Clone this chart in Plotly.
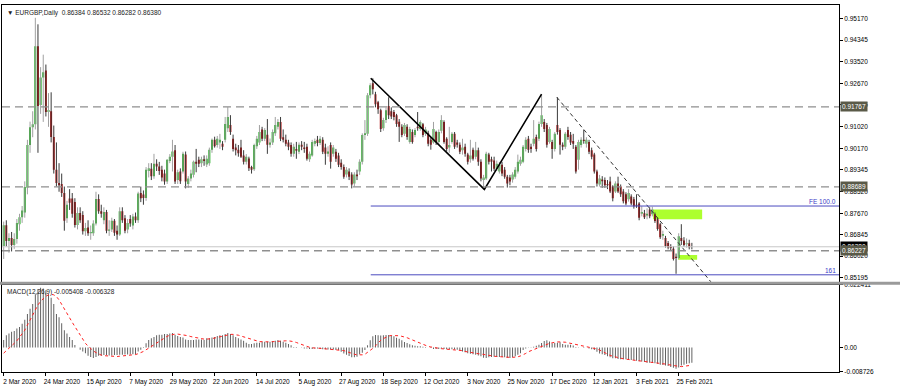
import plotly.graph_objects as go

# ---------------- data ----------------
tick_idx = [0, 16, 32, 48, 64, 80, 96, 112, 128, 144, 160, 176, 192, 208, 224, 240, 256]
tick_dates = ["2 Mar 2020", "24 Mar 2020", "15 Apr 2020", "7 May 2020", "29 May 2020", "22 Jun 2020",
              "14 Jul 2020", "5 Aug 2020", "27 Aug 2020", "18 Sep 2020", "12 Oct 2020", "3 Nov 2020",
              "25 Nov 2020", "17 Dec 2020", "12 Jan 2021", "3 Feb 2021", "25 Feb 2021"]

opens = [
    .8641, .8721, .8660, .8672, .8645, .8668, .8725, .8752, .8770, .8865,
    .9030, .9098, .9110, .9410, .9184, .9290, .9317, .9157, .9160, .9061,
    .8935, .8884, .8880, .8845, .8748, .8824, .8824, .8810, .8722, .8768,
    .8760, .8698, .8712, .8690, .8690, .8728, .8822, .8775, .8740, .8772,
    .8700, .8705, .8738, .8700, .8685, .8775, .8748, .8705, .8745, .8720,
    .8755, .8740, .8845, .8839, .8826, .8930, .8939, .8910, .8958, .8947,
    .8935, .8920, .8889, .8968, .8985, .9010, .8895, .8928, .8928, .8993,
    .8880, .8901, .8915, .8966, .8973, .8960, .8975, .8955, .8960, .9012,
    .9050, .9030, .9040, .9035, .9050, .9095, .9107, .9054, .9020, .9012,
    .9020, .8990, .8966, .8978, .8945, .8937, .9025, .9040, .9090, .9054,
    .9070, .9031, .9040, .9075, .9100, .9119, .9060, .9050, .9040, .9030,
    .8996, .9015, .9004, .9031, .9020, .9023, .8975, .8990, .9035, .9050,
    .9038, .9050, .9020, .8996, .9030, .8996, .9004, .8990, .8962, .8945,
    .8916, .8928, .8916, .8882, .8916, .8928, .8966, .9069, .9073, .9222,
    .9268, .9226, .9195, .9164, .9095, .9126, .9180, .9160, .9157, .9145,
    .9120, .9100, .9073, .9100, .9042, .9080, .9069, .9100, .9092, .9110,
    .9073, .9075, .9050, .9040, .9080, .9042, .9085, .9119, .9054, .9020,
    .9042, .9073, .9040, .9031, .9010, .9023, .8993, .8975, .9012, .8985,
    .9010, .8966, .8895, .8901, .8993, .8975, .8970, .8939, .8928, .8954,
    .8935, .8908, .8905, .8897, .8908, .8928, .8958, .8966, .9015, .9054,
    .9023, .9035, .9061, .9054, .9111, .9119, .9107, .9042, .9042, .9015,
    .9107, .9088, .9031, .9023, .9088, .9070, .9045, .9023, .8973, .9030,
    .9050, .9035, .9042, .9010, .8993, .8928, .8878, .8897, .8895, .8880,
    .8889, .8870, .8851, .8882, .8870, .8851, .8840, .8821, .8832, .8821,
    .8800, .8805, .8765, .8767, .8758, .8782, .8763, .8763, .8744, .8725,
    .8680, .8672, .8653, .8638, .8630, .8600, .8595, .8672, .8662, .8648,
    .8652, .86384]

highs = [
    .8735, .8740, .8690, .8695, .8690, .8745, .8765, .8795, .8890, .9050,
    .9120, .9160, .9520, .9495, .9330, .9378, .9340, .9230, .9233, .9105,
    .9040, .8960, .8920, .8870, .8815, .8860, .8845, .8825, .8790, .8790,
    .8775, .8730, .8740, .8720, .8740, .8850, .8840, .8800, .8790, .8780,
    .8740, .8750, .8745, .8720, .8790, .8790, .8760, .8745, .8760, .8765,
    .8770, .8850, .8870, .8855, .8945, .8960, .8960, .8996, .8975, .8965,
    .8950, .8935, .8975, .8995, .9050, .9030, .8935, .8940, .9004, .9005,
    .8910, .8935, .8970, .9015, .8985, .8985, .8990, .8990, .9020, .9055,
    .9062, .9065, .9073, .9045, .9138, .9176, .9145, .9070, .9035, .9030,
    .9050, .9010, .8995, .8985, .8950, .9035, .9065, .9107, .9100, .9095,
    .9130, .9055, .9090, .9138, .9130, .9138, .9090, .9070, .9050, .9040,
    .9035, .9042, .9040, .9045, .9042, .9035, .9005, .9050, .9055, .9065,
    .9065, .9060, .9035, .9025, .9040, .9030, .9015, .9000, .8975, .8955,
    .8945, .8940, .8925, .8925, .8935, .8975, .9075, .9126, .9230, .9268,
    .9287, .9235, .9200, .9170, .9135, .9175, .9214, .9175, .9165, .9150,
    .9130, .9110, .9115, .9110, .9100, .9090, .9095, .9157, .9125, .9115,
    .9100, .9085, .9060, .9119, .9085, .9090, .9145, .9125, .9060, .9100,
    .9080, .9080, .9050, .9040, .9054, .9035, .9000, .9050, .9020, .9042,
    .9020, .8975, .8915, .9004, .9000, .8985, .8985, .8970, .8965, .8965,
    .8945, .8915, .8915, .8925, .8945, .8993, .8985, .9030, .9060, .9065,
    .9035, .9126, .9070, .9120, .9222, .9130, .9115, .9100, .9050, .9080,
    .9214, .9095, .9040, .9080, .9100, .9080, .9073, .9030, .9050, .9060,
    .9088, .9060, .9050, .9020, .9000, .8935, .8915, .8910, .8905, .8895,
    .8908, .8875, .8890, .8908, .8878, .8860, .8848, .8860, .8840, .8830,
    .8840, .8810, .8794, .8780, .8786, .8790, .8792, .8770, .8750, .8730,
    .8700, .8680, .8660, .8648, .8640, .8612, .8690, .8725, .8675, .8670,
    .8665, .86532]

lows = [
    .8591, .8640, .8615, .8620, .8630, .8650, .8700, .8730, .8750, .8840,
    .9000, .9060, .9090, .9000, .9150, .9119, .9140, .9100, .9040, .8920,
    .8870, .8850, .8830, .8700, .8730, .8780, .8750, .8712, .8705, .8730,
    .8685, .8680, .8680, .8665, .8680, .8720, .8765, .8750, .8725, .8690,
    .8680, .8695, .8680, .8665, .8680, .8730, .8690, .8690, .8715, .8705,
    .8730, .8730, .8810, .8800, .8815, .8905, .8895, .8900, .8930, .8915,
    .8890, .8877, .8880, .8960, .8928, .8880, .8880, .8880, .8920, .8863,
    .8865, .8890, .8905, .8925, .8945, .8945, .8950, .8945, .8950, .9000,
    .9020, .9020, .9015, .9010, .9040, .9080, .9069, .9005, .8990, .8985,
    .8980, .8955, .8955, .8930, .8920, .8930, .9015, .9030, .9045, .9045,
    .8996, .9020, .9030, .9065, .9090, .9045, .9040, .9025, .9010, .8985,
    .8985, .8977, .8995, .9010, .9000, .8970, .8965, .8985, .9025, .9025,
    .9030, .8995, .8954, .8985, .8939, .8985, .8965, .8945, .8935, .8900,
    .8905, .8895, .8863, .8870, .8895, .8915, .8955, .9050, .9065, .9210,
    .9225, .9175, .9150, .9080, .9085, .9115, .9130, .9130, .9125, .9100,
    .9042, .9060, .9065, .9050, .9035, .9035, .9060, .9085, .9085, .9060,
    .9065, .9025, .9012, .9035, .9030, .9030, .9075, .9035, .9005, .9000,
    .9035, .9015, .9020, .8995, .8993, .8985, .8955, .8962, .8970, .8975,
    .8950, .8890, .8859, .8895, .8955, .8928, .8930, .8930, .8920, .8910,
    .8900, .8866, .8875, .8885, .8900, .8920, .8950, .8960, .9005, .9000,
    .9000, .9025, .9005, .9045, .9100, .9080, .9020, .9035, .8977, .9005,
    .9070, .8993, .9010, .9015, .9050, .9030, .9015, .8920, .8935, .9020,
    .9035, .9020, .8995, .8975, .8920, .8870, .8870, .8865, .8865, .8860,
    .8845, .8813, .8845, .8845, .8830, .8805, .8798, .8812, .8798, .8785,
    .8788, .8740, .8755, .8745, .8744, .8748, .8755, .8730, .8700, .8668,
    .8665, .8635, .8628, .8625, .8585, .8534, .8590, .8645, .8638, .8635,
    .8628, .86282]

closes = [
    .8721, .8660, .8672, .8645, .8668, .8730, .8752, .8778, .8868, .9030,
    .9098, .9110, .9410, .9180, .9290, .9310, .9157, .9165, .9061, .8935,
    .8884, .8875, .8845, .8738, .8800, .8808, .8765, .8722, .8768, .8740,
    .8698, .8710, .8690, .8695, .8728, .8822, .8775, .8765, .8772, .8700,
    .8705, .8738, .8692, .8685, .8775, .8740, .8700, .8730, .8728, .8755,
    .8740, .8843, .8825, .8826, .8935, .8940, .8910, .8958, .8947, .8930,
    .8905, .8889, .8973, .8985, .9005, .8889, .8925, .8890, .8996, .8889,
    .8901, .8920, .8966, .8958, .8958, .8975, .8968, .8977, .9012, .9050,
    .9025, .9054, .9050, .9023, .9111, .9138, .9080, .9015, .9010, .8998,
    .8985, .8966, .8985, .8940, .8935, .9030, .9054, .9080, .9054, .9088,
    .9031, .9040, .9080, .9107, .9119, .9054, .9050, .9035, .9023, .8996,
    .9023, .9008, .9031, .9023, .9015, .8977, .8996, .9042, .9045, .9038,
    .9054, .9004, .8996, .9005, .8966, .9020, .8977, .8954, .8945, .8908,
    .8935, .8908, .8878, .8916, .8910, .8966, .9069, .9075, .9222, .9260,
    .9245, .9187, .9168, .9092, .9126, .9164, .9145, .9140, .9138, .9111,
    .9100, .9069, .9107, .9061, .9092, .9042, .9088, .9095, .9119, .9069,
    .9090, .9035, .9031, .9092, .9042, .9080, .9126, .9042, .9015, .9030,
    .9073, .9023, .9031, .9004, .9020, .8996, .8966, .8990, .8977, .9010,
    .8966, .8901, .8905, .8996, .8966, .8966, .8939, .8958, .8954, .8920,
    .8908, .8882, .8889, .8916, .8935, .8966, .8973, .9023, .9050, .9012,
    .9015, .9054, .9015, .9111, .9145, .9092, .9031, .9092, .9015, .9073,
    .9080, .9031, .9023, .9073, .9061, .9040, .9035, .8928, .9042, .9050,
    .9045, .9050, .9004, .8985, .8928, .8882, .8901, .8890, .8875, .8875,
    .8851, .8825, .8882, .8851, .8840, .8813, .8805, .8845, .8805, .8794,
    .8796, .8750, .8772, .8752, .8765, .8756, .8782, .8737, .8706, .8675,
    .8687, .8641, .8635, .8633, .8591, .8595, .8679, .8660, .8645, .8652,
    .8636, .86380]

# MACD(12,26,9), in units of 0.0001
macd_main_e4 = [
    27, 44, 50, 56, 59, 68, 73, 85, 99, 120,
    138, 155, 190, 208, 213, 211, 204, 190, 178, 155,
    120, 108, 87, 62, 50, 38, 27, 9, 0, -8,
    -14, -20, -29, -34, -37, -34, -29, -29, -27, -27,
    -28, -28, -27, -27, -26, -26, -25, -25, -25, -24,
    -24, -14, -8, -2, 15, 27, 33, 38, 44, 46,
    46, 48, 48, 50, 52, 46, 41, 38, 36, 29,
    27, 27, 27, 29, 29, 29, 27, 33, 33, 36,
    38, 41, 44, 44, 48, 52, 48, 44, 38, 33,
    29, 24, 17, 13, 13, 15, 17, 17, 21, 21,
    21, 21, 23, 24, 27, 24, 21, 17, 13, 8,
    2, 2, 0, -1, -3, -3, -5, -5, -3, -3,
    -5, -6, -6, -7, -7, -7, -9, -9, -15, -21,
    -26, -30, -35, -35, -33, -24, -19, -9, 8, 26,
    40, 45, 44, 43, 44, 45, 45, 43, 40, 35,
    31, 26, 20, 16, 12, 8, 6, 5, 5, 3,
    2, 0, -2, -5, -5, -5, -3, -5, -6, -5,
    -6, -7, -8, -10, -14, -17, -20, -22, -24, -26,
    -28, -31, -36, -37, -35, -34, -33, -34, -34, -34,
    -35, -36, -37, -35, -31, -26, -20, -9, -3, -1,
    1, 3, 6, 10, 16, 23, 26, 22, 15, 16,
    17, 19, 13, 10, 10, 10, 7, 2, -1, 0,
    2, 0, -3, -6, -9, -15, -21, -24, -27, -31,
    -35, -38, -38, -41, -42, -42, -42, -44, -44, -45,
    -47, -49, -50, -52, -54, -54, -55, -56, -58, -61,
    -62, -64, -66, -69, -72, -76, -71, -64, -61, -58,
    -56, -54]

macd_signal_e4 = [
    -20, -12, -4, 6, 15, 24, 36, 50, 62, 80,
    98, 118, 135, 152, 165, 175, 183, 188, 190, 188,
    182, 170, 155, 138, 122, 106, 90, 74, 58, 44,
    30, 15, 5, -5, -12, -18, -24, -27, -29, -30,
    -31, -32, -33, -32, -31, -30, -30, -29, -28, -27,
    -25, -22, -19, -14, -8, -2, 5, 11, 17, 24,
    30, 35, 40, 44, 47, 48, 48, 47, 46, 44,
    42, 39, 37, 35, 33, 31, 30, 30, 30, 32,
    34, 36, 38, 41, 44, 46, 47, 47, 46, 44,
    41, 38, 35, 31, 28, 25, 23, 21, 21, 20,
    20, 20, 21, 22, 23, 23, 24, 24, 24, 23,
    21, 18, 14, 11, 7, 4, 1, -1, -2, -2,
    -3, -3, -4, -5, -5, -6, -7, -8, -9, -11,
    -14, -18, -22, -24, -26, -27, -26, -24, -18, -10,
    -3, 6, 18, 26, 32, 37, 41, 43, 43, 43,
    42, 40, 38, 35, 31, 27, 23, 19, 15, 11,
    7, 4, 2, 0, -1, -3, -4, -5, -6, -7,
    -7, -8, -8, -9, -11, -14, -16, -18, -19, -21,
    -22, -23, -25, -27, -28, -30, -31, -32, -33, -34,
    -35, -35, -35, -35, -35, -33, -30, -26, -21, -15,
    -11, -7, -3, 1, 5, 9, 12, 15, 17, 19,
    20, 20, 20, 19, 17, 15, 13, 11, 9, 8,
    6, 5, 3, 1, -1, -5, -9, -14, -19, -24,
    -28, -31, -34, -36, -38, -40, -42, -43, -44, -45,
    -46, -47, -48, -49, -51, -52, -54, -55, -56, -57,
    -58, -59, -61, -63, -65, -66, -67, -68, -67, -65,
    -64, -63]

price_ticks = [0.95170, 0.94345, 0.93520, 0.92670, 0.91845, 0.91020, 0.90170, 0.89345,
               0.88520, 0.87670, 0.86845, 0.86020, 0.85195]
level_prices = [0.91767, 0.88689, 0.86227]
bid_price = 0.86380
zz_x = [139.2, 182.3, 204.0]          # zigzag (Fibo expansion anchor points)
zz_y = [0.9287, 0.8859, 0.9226]
fe_levels = [0.8795, 0.8530]
fe_labels = ["FE 100.0", "161"]
trend_x = [209.8, 268.7]
trend_y = [0.9214, 0.8497]
zone_x0 = [246.3, 255.8]
zone_x1 = [264.9, 263.0]
zone_lo = [0.8744, 0.8588]
zone_hi = [0.8782, 0.8606]
macd_ticks = [0.022411, 0.0, -0.008726]
macd_tick_text = ["0.022411", "0.00", "-0.008726"]

# ---------------- figure ----------------
idx = list(range(len(closes)))
macd_main = [v * 1e-4 for v in macd_main_e4]
macd_signal = [v * 1e-4 for v in macd_signal_e4]
body_len = [c - o for o, c in zip(opens, closes)]
body_col = ['#00a000' if c >= o else '#b00000' for o, c in zip(opens, closes)]

X_MIN, X_MAX = -0.64, 316.8
P_MIN, P_MAX = 0.850324, 0.956935
FONT = "Liberation Sans, Arial, sans-serif"
FS = 6.5

fig = go.Figure()

# wicks
fig.add_trace(go.Ohlc(
    x=idx, open=opens, high=highs, low=lows, close=closes,
    tickwidth=0, line=dict(width=1),
    increasing=dict(line=dict(color='#a0a0a0')),
    decreasing=dict(line=dict(color='#3a3a3a')),
    xaxis='x', yaxis='y', hoverinfo='skip', showlegend=False))
# bodies
fig.add_trace(go.Bar(
    x=idx, y=body_len, base=opens, width=0.72,
    marker=dict(color=body_col, line=dict(width=0)),
    xaxis='x', yaxis='y', hoverinfo='skip', showlegend=False))
# zigzag
fig.add_trace(go.Scatter(x=zz_x, y=zz_y, mode='lines',
                         line=dict(color='black', width=1.6),
                         xaxis='x', yaxis='y', hoverinfo='skip', showlegend=False))
# dashed trendline
fig.add_trace(go.Scatter(x=trend_x, y=trend_y, mode='lines',
                         line=dict(color='#333333', width=1, dash='4px,3px'),
                         xaxis='x', yaxis='y', hoverinfo='skip', showlegend=False))
# MACD
fig.add_trace(go.Bar(x=idx, y=macd_main, width=0.36,
                     marker=dict(color='#5a5a5a', line=dict(width=0)),
                     xaxis='x2', yaxis='y2', hoverinfo='skip', showlegend=False))
fig.add_trace(go.Scatter(x=idx, y=macd_signal, mode='lines',
                         line=dict(color='#ff2020', width=1, dash='dot'),
                         xaxis='x2', yaxis='y2', hoverinfo='skip', showlegend=False))

shapes = []
for x0, x1, lo, hi in zip(zone_x0, zone_x1, zone_lo, zone_hi):
    shapes.append(dict(type='rect', xref='x', yref='y', x0=x0, x1=x1, y0=lo, y1=hi,
                       fillcolor='#adff2f', line=dict(width=0), layer='below'))
shapes.append(dict(type='line', xref='x domain', yref='y', x0=0, x1=1, y0=bid_price, y1=bid_price,
                   line=dict(color='#c8c8c8', width=1)))
for lv in level_prices:
    shapes.append(dict(type='line', xref='x domain', yref='y', x0=0, x1=1, y0=lv, y1=lv,
                       line=dict(color='#8f8f8f', width=1.3, dash='8px,5px')))
for lv in fe_levels:
    shapes.append(dict(type='line', xref='x', yref='y', x0=zz_x[0], x1=X_MAX, y0=lv, y1=lv,
                       line=dict(color='#4b4bbf', width=1)))
# separator between the two windows
shapes.append(dict(type='rect', xref='paper', yref='paper', x0=-0.01, x1=1.075, y0=0.2378, y1=0.2459,
                   fillcolor='#9a9a9a', line=dict(width=0)))

annotations = [
    dict(xref='paper', yref='paper', x=0.004, y=1, xanchor='left', yanchor='top', yshift=-2,
         text="▼ EURGBP,Daily  0.86384 0.86532 0.86282 0.86380", showarrow=False,
         font=dict(family=FONT, size=FS, color='#222222')),
    dict(xref='paper', yref='paper', x=0.004, y=0.2378, xanchor='left', yanchor='top', yshift=-1,
         text="MACD(12,26,9) -0.005408 -0.006328", showarrow=False,
         font=dict(family=FONT, size=FS, color='#222222')),
]
for lv, lab in zip(fe_levels, fe_labels):
    annotations.append(dict(xref='paper', yref='y', x=1, y=lv, xanchor='right', yanchor='bottom',
                            xshift=-1, yshift=-1, text=lab, showarrow=False,
                            font=dict(family=FONT, size=FS, color='#3c3cc8')))
# price tags on the right axis
tags = [(bid_price, '#000000')] + [(lv, '#5a5a48') for lv in level_prices]
for lv, bg in tags:
    annotations.append(dict(xref='paper', yref='y', x=1, y=lv, xanchor='left', yanchor='middle',
                            xshift=1, text=f"{lv:.5f}", showarrow=False, bgcolor=bg, borderpad=1,
                            font=dict(family=FONT, size=FS, color='white')))

axis_common = dict(showgrid=False, zeroline=False, showline=True, linecolor='black',
                   linewidth=1, mirror=True, tickcolor='black',
                   tickfont=dict(family=FONT, size=FS, color='black'))

fig.update_layout(
    width=900, height=387,
    margin=dict(l=1, r=61, t=2, b=15),
    paper_bgcolor='white', plot_bgcolor='white',
    showlegend=False, barmode='overlay',
    shapes=shapes, annotations=annotations,
    xaxis=dict(domain=[0, 1], anchor='y', range=[X_MIN, X_MAX], showticklabels=False,
               ticks='', rangeslider=dict(visible=False), **axis_common),
    yaxis=dict(domain=[0.2459, 1], anchor='x', side='right', range=[P_MIN, P_MAX],
               tickvals=price_ticks, ticktext=[f"{v:.5f}" for v in price_ticks],
               ticks='outside', ticklen=3, **axis_common),
    xaxis2=dict(domain=[0, 1], anchor='y2', matches='x', range=[X_MIN, X_MAX],
                tickvals=tick_idx, ticktext=tick_dates, ticks='outside', ticklen=3,
                ticklabelshift=16, rangeslider=dict(visible=False), **axis_common),
    yaxis2=dict(domain=[0, 0.2378], anchor='x2', side='right', range=[-0.008726, 0.022411],
                tickvals=macd_ticks, ticktext=macd_tick_text, ticks='outside', ticklen=3,
                **axis_common),
)

fig.write_html("out.html", config={'displayModeBar': False, 'staticPlot': True},
               post_script="document.body.style.margin='0px';document.body.style.overflow='hidden';")
